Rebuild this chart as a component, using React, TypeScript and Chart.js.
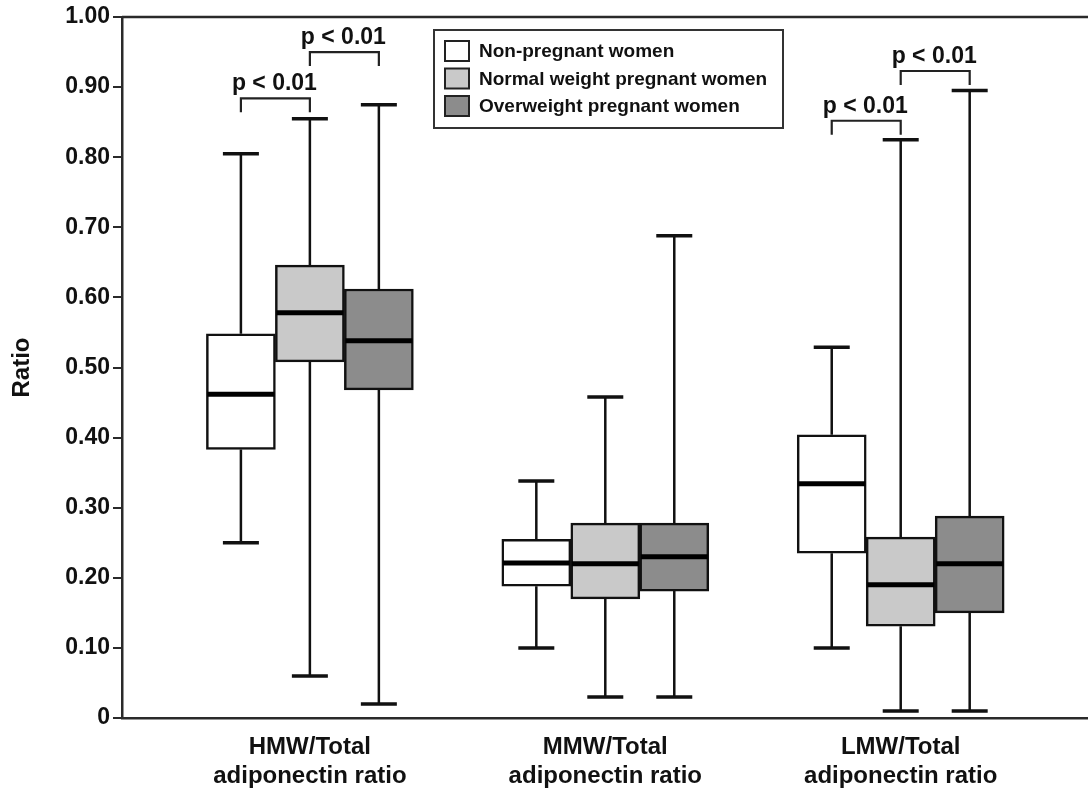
import React, { useEffect, useRef } from 'react';
import { Chart, registerables } from 'chart.js';

Chart.register(...registerables);

// ---------- data ----------
const categoryLabels: string[][] = [
  ['HMW/Total', 'adiponectin ratio'],
  ['MMW/Total', 'adiponectin ratio'],
  ['LMW/Total', 'adiponectin ratio'],
];
const categoryPositions = [1, 2, 3];

const seriesNames = ['Non-pregnant women', 'Normal weight pregnant women', 'Overweight pregnant women'];
const seriesColors = ['#ffffff', '#c9c9c9', '#8c8c8c'];
const seriesOffsets = [-0.2335, 0, 0.2335];

const nonPregMin = [0.25, 0.10, 0.10];
const nonPregQ1 = [0.383, 0.188, 0.235];
const nonPregMedian = [0.462, 0.221, 0.334];
const nonPregQ3 = [0.548, 0.255, 0.404];
const nonPregMax = [0.805, 0.338, 0.529];

const normalMin = [0.06, 0.03, 0.01];
const normalQ1 = [0.508, 0.17, 0.131];
const normalMedian = [0.578, 0.22, 0.19];
const normalQ3 = [0.646, 0.278, 0.258];
const normalMax = [0.855, 0.458, 0.825];

const overMin = [0.02, 0.03, 0.01];
const overQ1 = [0.468, 0.181, 0.15];
const overMedian = [0.538, 0.23, 0.22];
const overQ3 = [0.612, 0.278, 0.288];
const overMax = [0.875, 0.688, 0.895];

const seriesMin = [nonPregMin, normalMin, overMin];
const seriesQ1 = [nonPregQ1, normalQ1, overQ1];
const seriesMedian = [nonPregMedian, normalMedian, overMedian];
const seriesQ3 = [nonPregQ3, normalQ3, overQ3];
const seriesMax = [nonPregMax, normalMax, overMax];

// significance brackets
const bracketCategory = [0, 0, 2, 2];
const bracketFrom = [0, 1, 0, 1];
const bracketTo = [1, 2, 1, 2];
const bracketY = [0.884, 0.95, 0.852, 0.923];
const bracketText = ['p < 0.01', 'p < 0.01', 'p < 0.01', 'p < 0.01'];

const FONT = "'Liberation Sans', Arial, Helvetica, sans-serif";
const INK = '#111111';
const AXIS = '#2a2a2a';

const boxPlugin = {
  id: 'boxExtras',
  beforeDatasetsDraw(chart: any) {
    const ctx = chart.ctx;
    const y = chart.scales.y;
    ctx.save();
    ctx.strokeStyle = INK;
    for (let s = 0; s < seriesNames.length; s++) {
      const meta = chart.getDatasetMeta(s);
      meta.data.forEach((bar: any, i: number) => {
        const { x } = bar.getProps(['x'], true);
        const capHalf = 18;
        const pMax = y.getPixelForValue(seriesMax[s][i]);
        const pQ3 = y.getPixelForValue(seriesQ3[s][i]);
        const pQ1 = y.getPixelForValue(seriesQ1[s][i]);
        const pMin = y.getPixelForValue(seriesMin[s][i]);
        ctx.lineWidth = 2.5;
        ctx.beginPath();
        ctx.moveTo(x, pQ3);
        ctx.lineTo(x, pMax);
        ctx.moveTo(x, pQ1);
        ctx.lineTo(x, pMin);
        ctx.stroke();
        ctx.lineWidth = 3.5;
        ctx.beginPath();
        ctx.moveTo(x - capHalf, pMax);
        ctx.lineTo(x + capHalf, pMax);
        ctx.moveTo(x - capHalf, pMin);
        ctx.lineTo(x + capHalf, pMin);
        ctx.stroke();
      });
    }
    ctx.restore();
  },
  afterDatasetsDraw(chart: any) {
    const ctx = chart.ctx;
    const y = chart.scales.y;
    ctx.save();
    ctx.strokeStyle = '#000';
    ctx.lineWidth = 5;
    for (let s = 0; s < seriesNames.length; s++) {
      const meta = chart.getDatasetMeta(s);
      meta.data.forEach((bar: any, i: number) => {
        const { x, width } = bar.getProps(['x', 'width'], true);
        const pm = y.getPixelForValue(seriesMedian[s][i]);
        ctx.beginPath();
        ctx.moveTo(x - width / 2 + 1, pm);
        ctx.lineTo(x + width / 2 - 1, pm);
        ctx.stroke();
      });
    }
    ctx.restore();
  },
  afterDraw(chart: any) {
    const ctx = chart.ctx;
    const { left, right, top } = chart.chartArea;
    const xs = chart.scales.x;
    const ys = chart.scales.y;
    ctx.save();
    // top frame line
    ctx.strokeStyle = AXIS;
    ctx.lineWidth = 2.5;
    ctx.beginPath();
    ctx.moveTo(left, top);
    ctx.lineTo(right, top);
    ctx.stroke();

    // brackets
    ctx.strokeStyle = '#222';
    ctx.lineWidth = 2.2;
    ctx.fillStyle = '#111';
    ctx.font = `bold 23px ${FONT}`;
    ctx.textAlign = 'center';
    ctx.textBaseline = 'alphabetic';
    for (let b = 0; b < bracketY.length; b++) {
      const c = bracketCategory[b];
      const x1 = xs.getPixelForValue(categoryPositions[c] + seriesOffsets[bracketFrom[b]]);
      const x2 = xs.getPixelForValue(categoryPositions[c] + seriesOffsets[bracketTo[b]]);
      const py = ys.getPixelForValue(bracketY[b]);
      ctx.beginPath();
      ctx.moveTo(x1, py + 14);
      ctx.lineTo(x1, py);
      ctx.lineTo(x2, py);
      ctx.lineTo(x2, py + 14);
      ctx.stroke();
      ctx.fillText(bracketText[b], (x1 + x2) / 2 - 1, py - 8);
    }

    // legend
    const lx = 434, ly = 30, lw = 349, lh = 98;
    ctx.fillStyle = '#fff';
    ctx.fillRect(lx, ly, lw, lh);
    ctx.strokeStyle = '#333';
    ctx.lineWidth = 2;
    ctx.strokeRect(lx, ly, lw, lh);
    ctx.font = `bold 19px ${FONT}`;
    ctx.textAlign = 'left';
    ctx.textBaseline = 'middle';
    for (let s = 0; s < seriesNames.length; s++) {
      const sy = ly + 11 + s * 27.5;
      ctx.fillStyle = seriesColors[s];
      ctx.fillRect(lx + 11, sy, 24, 20);
      ctx.strokeStyle = '#222';
      ctx.lineWidth = 2;
      ctx.strokeRect(lx + 11, sy, 24, 20);
      ctx.fillStyle = '#111';
      ctx.fillText(seriesNames[s], lx + 45, sy + 11);
    }
    ctx.restore();
  },
};

export default function App() {
  const ref = useRef<HTMLCanvasElement | null>(null);

  useEffect(() => {
    if (!ref.current) return;
    Chart.defaults.font.family = FONT;
    const datasets = seriesNames.map((name, s) => ({
      label: name,
      data: categoryPositions.map((c, i) => ({ x: c + seriesOffsets[s], y: [seriesQ1[s][i], seriesQ3[s][i]] })),
      backgroundColor: seriesColors[s],
      borderColor: INK,
      borderWidth: 2.5,
      borderSkipped: false,
      grouped: false,
      barThickness: 69,
    }));

    const chart = new Chart(ref.current, {
      type: 'bar',
      data: { datasets: datasets as any },
      plugins: [boxPlugin],
      options: {
        responsive: false,
        animation: false,
        devicePixelRatio: 1,
        layout: { padding: { top: 17, right: 0, bottom: 0, left: 0 } },
        plugins: {
          legend: { display: false },
          tooltip: { enabled: false },
        },
        scales: {
          x: {
            type: 'linear',
            min: 0.364,
            max: 3.634,
            offset: false,
            grid: { display: false, drawTicks: false, offset: false },
            border: { display: true, color: AXIS, width: 2.5 },
            afterBuildTicks: (axis: any) => {
              axis.ticks = categoryPositions.map((v) => ({ value: v }));
            },
            afterFit: (axis: any) => {
              axis.height = 71;
            },
            ticks: {
              autoSkip: false,
              maxRotation: 0,
              padding: 15,
              color: '#111',
              font: { size: 24, weight: 'bold', lineHeight: 1.2 },
              callback: (value: any) => {
                const idx = categoryPositions.indexOf(Number(value));
                return idx >= 0 ? categoryLabels[idx] : '';
              },
            },
          },
          y: {
            type: 'linear',
            min: 0,
            max: 1,
            grid: { display: true, drawOnChartArea: false, drawTicks: true, tickLength: 9, color: AXIS, lineWidth: 2 },
            border: { display: true, color: AXIS, width: 2.5 },
            afterFit: (axis: any) => {
              axis.width = 122;
            },
            title: {
              display: true,
              text: 'Ratio',
              color: '#111',
              font: { size: 24, weight: 'bold', lineHeight: 1.2 },
              padding: { top: 8, bottom: 0 },
            },
            ticks: {
              stepSize: 0.1,
              padding: 3,
              color: '#111',
              font: { size: 23, weight: 'bold' },
              callback: (value: any) => (Number(value) === 0 ? '0' : Number(value).toFixed(2)),
            },
          },
        },
      } as any,
    });
    return () => chart.destroy();
  }, []);

  return (
    <div style={{ position: 'absolute', left: 0, top: 0, width: 1088, height: 789, background: '#fff' }}>
      <canvas ref={ref} width={1088} height={789} style={{ display: 'block' }} />
    </div>
  );
}
